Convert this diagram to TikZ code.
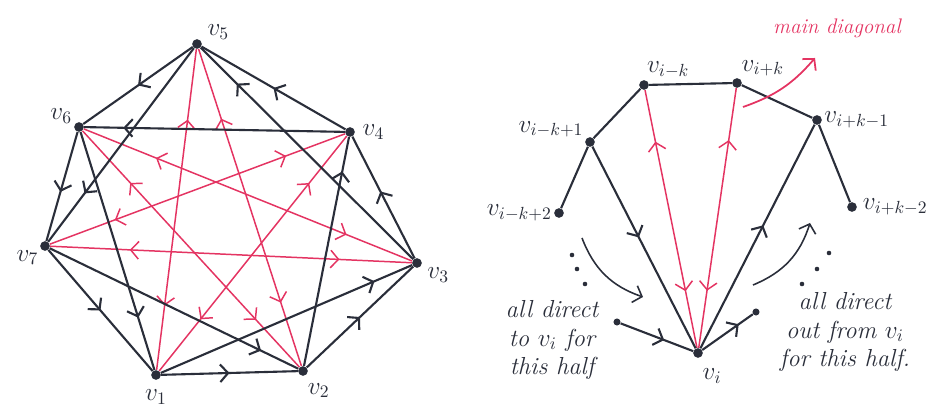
\documentclass[tikz,border=0pt]{standalone}
\usepackage{xcolor}
\usepackage{tikz}
\usetikzlibrary{arrows.meta, decorations.markings, positioning}

\definecolor{ink}{RGB}{42,46,58}
\definecolor{diag}{RGB}{228,52,98}

\begin{document}
\begin{tikzpicture}[
    vtx/.style={circle, fill=ink, inner sep=0pt, minimum size=5.5pt},
    lbl/.style={font=\Large, text=ink, inner sep=1pt},
    note/.style={font=\fontsize{14}{16}\selectfont\itshape, text=ink, align=center},
    edge/.style={ink, line width=1.2pt},
    diagline/.style={diag, line width=0.85pt},
    >={Straight Barb[length=4.5pt, width=10pt]},
    arr/.style={postaction={decorate, decoration={markings,
        mark=at position #1 with {\arrow{>}}}}},
    both/.style={postaction={decorate, decoration={markings,
        mark=at position 0.22 with {\arrowreversed{>}},
        mark=at position 0.8 with {\arrow{>}}}}},
]
\useasboundingbox (0,0) rectangle (18.62,8.18);

% Left: tournament on seven vertices
\node[vtx, label={[lbl, label distance=2pt]15:$v_5$}] (v5) at (3.94,7.30) {};
\node[vtx, label={[lbl]160:$v_6$}] (v6) at (1.58,5.64) {};
\node[vtx, label={[lbl, label distance=3pt]right:$v_4$}] (v4) at (7.00,5.54) {};
\node[vtx, label={[lbl]205:$v_7$}] (v7) at (0.90,3.26) {};
\node[vtx, label={[lbl, label distance=2pt]-20:$v_3$}] (v3) at (8.34,2.92) {};
\node[vtx, label={[lbl, label distance=4pt]below:$v_1$}] (v1) at (3.12,0.68) {};
\node[vtx, label={[lbl, label distance=3pt]-75:$v_2$}] (v2) at (6.06,0.76) {};

% main diagonals, both ways
\draw[diagline, both] (v5) -- (v1);
\draw[diagline, both] (v5) -- (v2);
\draw[diagline, both] (v6) -- (v3);
\draw[diagline, both] (v6) -- (v2);
\draw[diagline, both] (v7) -- (v4);
\draw[diagline, both] (v1) -- (v4);
\draw[diagline, both] (v7) -- (v3);

% sides
\draw[edge, arr=0.5] (v1) -- (v2);
\draw[edge, arr=0.5] (v2) -- (v3);
\draw[edge, arr=0.55] (v3) -- (v4);
\draw[edge, arr=0.5] (v4) -- (v5);
\draw[edge, arr=0.5] (v5) -- (v6);
\draw[edge, arr=0.55] (v6) -- (v7);
\draw[edge, arr=0.5] (v7) -- (v1);

% short chords
\draw[edge, arr=0.85] (v1) -- (v3);
\draw[edge, arr=0.85] (v2) -- (v4);
\draw[edge, arr=0.83] (v3) -- (v5);
\draw[edge, arr=0.85] (v4) -- (v6);
\draw[edge, arr=0.75] (v5) -- (v7);
\draw[edge, arr=0.78] (v6) -- (v1);
\draw[edge, arr=0.85] (v7) -- (v2);

% Right: around v_i
\node[vtx, label={[lbl, label distance=5pt]-80:$v_i$}] (vi) at (13.96,1.12) {};
\node[vtx, label={[lbl]80:$v_{i-k}$}] (vmk) at (12.88,6.48) {};
\node[vtx, label={[lbl]60:$v_{i+k}$}] (vpk) at (14.74,6.52) {};
\node[vtx, label={[lbl]right:$v_{i+k-1}$}] (vpk1) at (16.34,5.78) {};
\node[vtx, label={[lbl]150:$v_{i-k+1}$}] (vmk1) at (11.80,5.34) {};
\node[vtx, label={[lbl]left:$v_{i-k+2}$}] (vmk2) at (11.18,3.92) {};
\node[vtx, label={[lbl, label distance=2pt]right:$v_{i+k-2}$}] (vpk2) at (17.04,4.04) {};
\node[vtx, minimum size=4pt] (pin) at (12.34,1.74) {};
\node[vtx, minimum size=4pt] (pout) at (15.12,1.94) {};

\draw[edge] (vmk2) -- (vmk1) -- (vmk) -- (vpk) -- (vpk1) -- (vpk2);
\draw[diagline, both] (vi) -- (vmk);
\draw[diagline, both] (vi) -- (vpk);
\draw[edge, arr=0.45] (vmk1) -- (vi);
\draw[edge, arr=0.55] (vi) -- (vpk1);
\draw[edge, arr=0.6] (pin) -- (vi);
\draw[edge, arr=0.72] (vi) -- (pout);

% the rest of each half
\coordinate (ina) at (11.64,3.42);
\coordinate (inb) at (12.86,2.24);
\coordinate (outa) at (15.06,2.48);
\coordinate (outb) at (16.20,3.72);
\draw[edge, line width=0.9pt, ->] (ina) to[bend right=25] (inb);
\draw[edge, line width=0.9pt, ->] (outa) to[bend right=25] (outb);
\fill[ink] (11.44,3.08) circle (1.3pt);
\fill[ink] (11.54,2.80) circle (1.3pt);
\fill[ink] (11.70,2.50) circle (1.3pt);
\fill[ink] (16.58,3.12) circle (1.3pt);
\fill[ink] (16.34,2.80) circle (1.3pt);
\fill[ink] (16.04,2.50) circle (1.3pt);

\node[note] (innote) at (11.04,1.38) {all direct\\to $v_i$ for\\this half};
\node[note] (outnote) at (16.90,1.54) {all direct\\out from $v_i$\\for this half.};

% Label
\node[font=\large\itshape, text=diag] (md) at (16.74,7.62) {main diagonal};
\coordinate (mda) at (14.86,6.04);
\coordinate (mdb) at (16.30,7.02);
\draw[diagline, line width=1pt, ->] (mda) to[bend right=15] (mdb);

\end{tikzpicture}
\end{document}
